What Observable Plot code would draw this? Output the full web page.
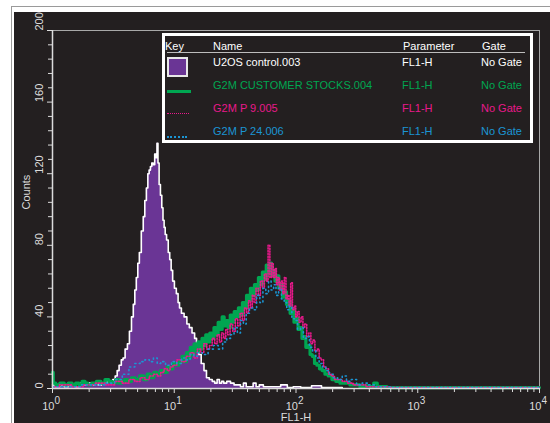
<!DOCTYPE html>
<html>
<head>
<meta charset="utf-8">
<script src="https://cdn.jsdelivr.net/npm/d3@7"></script>
<script src="https://cdn.jsdelivr.net/npm/@observablehq/plot@0.6"></script>
<style>
  html, body { margin: 0; padding: 0; background: #ffffff; }
  #wrap { position: relative; width: 550px; height: 423px; overflow: hidden; background: #fff; font-family: "Liberation Sans", Arial, sans-serif; }
  #border { position: absolute; left: 11px; top: 6px; width: 545px; height: 420px; border-left: 1px solid #9a9a9a; border-top: 1px solid #9a9a9a; }
  #panel { position: absolute; left: 14px; top: 12px; width: 536px; height: 411px; background: #231f20; }
  #chart { position: absolute; left: 0; top: 0; }
  #legend { position: absolute; left: 162px; top: 33px; width: 371px; height: 110px; box-sizing: border-box; border: 3px solid #ffffff; background: #231f20; }
  .lt { position: absolute; font-size: 11px; line-height: 11px; white-space: nowrap; }
</style>
</head>
<body>
<div id="wrap">
  <div id="border"></div>
  <div id="panel"></div>
  <div id="chart"></div>
  <div id="legend"></div>
</div>
<script>
// ---- data: [FL1-H value, counts] ----
const controlData = [
  [1.0,2],[1.1,1],[1.2,2],[1.3,1],[1.4,2],[1.5,2],[1.6,1],[1.7,3],[1.8,2],[1.9,2],[2.0,3],[2.15,2],[2.3,3],[2.45,2],[2.6,3],[2.75,3],[2.9,4],
  [3.05,4],[3.2,5],[3.35,7],[3.45,10],[3.6,13],[3.75,16],[3.85,17],[4.05,22],[4.2,25],[4.37,32],[4.54,40],[4.68,47],[4.81,55],[4.95,62],
  [5.09,70],[5.25,76],[5.48,88],[5.65,96],[5.81,105],[6.0,112],[6.14,120],[6.3,122],[6.45,124],[6.63,126],[6.8,125],[7.02,131],[7.15,129],[7.28,137],
  [7.42,126],[7.6,114],[7.8,108],[8.0,101],[8.16,94],[8.35,90],[8.5,86],[8.8,83],[9.05,76],[9.31,72],[9.55,66],[9.86,60],[10.2,56],[10.6,53],
  [10.9,48],[11.2,45],[11.7,42],[12.4,40],[13.0,36],[13.6,34],[14.4,31],[15.0,28],[15.5,21],[16.2,19],[17.1,14],[18.0,10],[18.8,6],[20.0,5],
  [21.0,4],[22.0,3],[23.0,5],[24.0,3],[25.0,4],[26.0,3],[28.0,4],[30.0,3],[32.0,2],[34.0,2],[36.0,1],[38.0,3],[40.0,1],[43.0,1],[46.0,3],
  [48.0,1],[52.0,2],[56.0,1],[62.0,1],[70.0,1],[80.0,2],[90.0,0.5],[100,1],[120,0.5],[150,1.5],[175,0.5],[240,0.5]
];
const stocksData = [
  [1.0,9],[1.03,3],[1.1,2],[1.2,3],[1.3,2],[1.4,3],[1.5,2],[1.6,3],[1.7,2],[1.8,4],[1.9,3],[2.0,2],[2.2,3],[2.4,4],[2.6,3],[2.8,5],[3.0,4],
  [3.2,3],[3.4,5],[3.6,3],[3.8,4],[4.0,5],[4.3,4],[4.6,6],[5.0,5],[5.4,7],[5.8,5],[6.2,8],[6.6,6],[7.0,9],[7.4,8],[8.0,10],[8.5,9],[9.0,12],
  [9.5,11],[10,14],[10.6,13],[11.2,15],[12,18],[12.4,15],[12.8,20],[13.3,17],[13.8,23],[14.3,19],[14.8,25],[15.4,21],[16,26],[16.6,22],
  [17.2,28],[17.8,24],[18.5,30],[19.2,26],[20,31],[20.8,28],[21.6,34],[22.5,30],[23.4,37],[24.3,33],[25.2,40],[26.2,35],[27.2,38],[28.3,34],
  [29.4,41],[30.5,37],[31.7,43],[33,40],[34.3,45],[35.6,41],[37,48],[38.5,45],[40,52],[41.5,49],[43,56],[44.7,52],[46.5,58],[48.3,55],
  [50,62],[52,58],[54,65],[56,61],[58,69],[60,64],[62,70],[64,63],[66,66],[68.5,60],[71,63],[73.5,56],[76,58],[79,51],[82,54],[85,47],
  [88,49],[91,42],[94.5,44],[98,37],[102,39],[106,33],[110,34],[114,28],[118,29],[123,23],[128,24],[133,19],[139,18],[145,14],[152,13],
  [160,11],[168,10],[178,8],[190,7],[205,5],[220,4],[240,3],[265,3],[290,2],[320,2],[350,1],[390,1.5],[420,1],[450,3],[480,1],[520,1],
  [600,0.5],[800,0.5],[1000,0.5],[2000,0.5],[5000,0.5],[10000,0.5]
];
const p9Data = [
  [1.0,1],[1.3,2],[1.6,1],[2.0,2],[2.5,3],[3.0,2],[3.5,4],[4.0,3],[4.5,5],[5.0,4],[5.5,6],[6.0,5],[6.5,7],[7,8],[7.5,7],[8,9],[8.5,11],[9,10],
  [9.5,12],[10,13],[11,16],[12,15],[13,18],[14,20],[15,17],[16,22],[17,20],[18,25],[19,22],[20,24],[21,28],[22,25],[23,30],[24,26],[25,31],
  [26,28],[27,33],[28,30],[29.5,36],[31,32],[32.5,39],[34,35],[35.5,42],[37,38],[38.5,45],[40,42],[41.5,49],[43,45],[44.5,52],[46,48],
  [48,56],[50,52],[52,60],[54,56],[56,64],[58,60],[60,80],[62,62],[64,70],[66,62],[68,67],[70,58],[72,62],[74,55],[76.5,60],[79,53],
  [81.5,62],[84,50],[86.5,52],[89,46],[92,59],[95,44],[98,46],[101,40],[104,43],[108,37],[112,40],[116,34],[120,36],[125,29],[130,31],
  [135,25],[140,27],[146,21],[152,22],[158,17],[165,16],[172,12],[180,11],[190,8],[200,7],[215,5],[230,5],[250,4],[280,3],[310,2],[350,2],
  [400,1],[500,1],[700,0.5],[10000,0.5]
];
const p24Data = [
  [1.0,1],[1.5,1],[2,2],[2.5,2],[3,3],[3.5,5],[4,8],[4.5,12],[5,14],[5.5,15],[6,16],[6.5,15],[7,17],[7.5,14],[8,15],[9,13],[10,15],[11,14],
  [12,17],[13,16],[14,19],[15,18],[16,20],[18,19],[20,22],[22,24],[24,22],[26,26],[28,28],[30,30],[32,34],[34,31],[36,38],[38,36],[40,42],
  [43,45],[46,44],[49,52],[52,48],[55,56],[58,53],[61,60],[64,55],[67,58],[70,52],[74,56],[78,50],[82,48],[86,44],[90,46],[95,39],[100,38],
  [106,33],[112,34],[118,28],[125,29],[133,23],[141,21],[150,17],[160,14],[170,12],[182,10],[195,8],[210,6],[230,5],[250,7],[270,4],[300,5],
  [330,2],[370,3],[420,2],[480,1],[550,1],[700,0.5],[10000,0.5]
];

// ---- ticks and labels ----
const xDecades = [1, 10, 100, 1000, 10000];
const xExponents = ["0", "1", "2", "3", "4"];
const xMinor = [2,3,4,5,6,7,8,9,20,30,40,50,60,70,80,90,200,300,400,500,600,700,800,900,2000,3000,4000,5000,6000,7000,8000,9000];
const yMajor = [0, 40, 80, 120, 160, 200];
const yMinor = [8,16,24,32,48,56,64,72,88,96,104,112,128,136,144,152,168,176,184,192];
const xLabel = "FL1-H";
const yLabel = "Counts";

// ---- legend ----
const legendHeader = ["Key", "Name", "Parameter", "Gate"];
const legendNames = ["U2OS control.003", "G2M CUSTOMER STOCKS.004", "G2M P 9.005", "G2M P 24.006"];
const legendParams = ["FL1-H", "FL1-H", "FL1-H", "FL1-H"];
const legendGates = ["No Gate", "No Gate", "No Gate", "No Gate"];
const seriesColors = ["#ffffff", "#00a651", "#e8198b", "#1b95d4"];
const purple = "#6a3595";

const axisColor = "#dcdcdc";

const chart = Plot.plot({
  width: 550,
  height: 423,
  marginLeft: 52,
  marginRight: 11,
  marginTop: 30,
  marginBottom: 35,
  x: {type: "log", domain: [1, 10000], axis: null},
  y: {domain: [0, 200], axis: null},
  style: {background: "transparent", color: axisColor, fontFamily: "Liberation Sans, Arial, sans-serif", fontSize: "11px"},
  marks: [
    Plot.frame({stroke: "#a8a8a8"}),
    Plot.areaY(controlData, {x: d => d[0], y: d => d[1], curve: "step", fill: purple}),
    Plot.lineY(controlData, {x: d => d[0], y: d => d[1], curve: "step", stroke: "#ffffff", strokeWidth: 1.6}),
    Plot.lineY(stocksData, {x: d => d[0], y: d => d[1], curve: "step", stroke: seriesColors[1], strokeWidth: 3.2}),
    Plot.lineY(p9Data, {x: d => d[0], y: d => d[1], curve: "step", stroke: seriesColors[2], strokeWidth: 1.6, strokeDasharray: "1.2,1.6"}),
    Plot.lineY(p24Data, {x: d => d[0], y: d => d[1], curve: "step", stroke: seriesColors[3], strokeWidth: 1.6, strokeDasharray: "1.2,3.2"}),
    Plot.ruleY([0], {stroke: axisColor, strokeWidth: 1.5}),
    Plot.ruleX([1], {stroke: axisColor, strokeWidth: 1.5}),
    Plot.axisX({ticks: xMinor, tickSize: 4, tickFormat: () => "", stroke: axisColor, anchor: "bottom"}),
    Plot.axisX({ticks: xDecades, tickSize: 5, tickFormat: () => "", stroke: axisColor, anchor: "bottom"}),
    Plot.axisY({ticks: yMinor, tickSize: 4, tickFormat: () => "", stroke: axisColor, anchor: "left"}),
    Plot.axisY({ticks: yMajor, tickSize: 5, tickFormat: () => "", stroke: axisColor, anchor: "left"}),
    Plot.text(yMajor, {y: d => d, text: d => String(d), frameAnchor: "left", dx: -13, rotate: -90, fill: axisColor, fontSize: 11}),
    Plot.text([yLabel], {frameAnchor: "left", dx: -26, dy: 0, rotate: -90, fill: axisColor, fontSize: 11}),
    Plot.text(xDecades, {x: d => d, text: () => "10", frameAnchor: "bottom", textAnchor: "end", lineAnchor: "bottom", dx: 2, dy: 21, fill: axisColor, fontSize: 11}),
    Plot.text(xDecades, {x: d => d, text: (d, i) => xExponents[i], frameAnchor: "bottom", textAnchor: "start", lineAnchor: "bottom", dx: 2, dy: 15, fill: axisColor, fontSize: 10}),
    Plot.text([xLabel], {frameAnchor: "bottom", lineAnchor: "bottom", dy: 32, fill: axisColor, fontSize: 11})
  ]
});
document.getElementById("chart").appendChild(chart);

// ---- legend box (HTML overlay, coordinates relative to legend box) ----
const lg = document.getElementById("legend");
const ox = 165, oy = 36; // inner origin of legend on page
function addText(txt, px, py, color) {
  const el = document.createElement("div");
  el.className = "lt";
  el.textContent = txt;
  el.style.left = (px - ox) + "px";
  el.style.top = (py - oy) + "px";
  el.style.color = color;
  lg.appendChild(el);
}
const colX = [165, 213, 403, 482];
legendHeader.forEach((h, i) => addText(h, colX[i], 41, "#ffffff"));
const rule = document.createElement("div");
Object.assign(rule.style, {position: "absolute", left: (167 - ox) + "px", top: (52 - oy) + "px", width: "358px", height: "1px", background: "#bdbdbd"});
lg.appendChild(rule);
const rowY = [57, 80, 103, 126];
legendNames.forEach((n, i) => {
  addText(n, colX[1], rowY[i], seriesColors[i]);
  addText(legendParams[i], 402, rowY[i], seriesColors[i]);
  addText(legendGates[i], 481, rowY[i], seriesColors[i]);
});
// key swatches
const sw = document.createElement("div");
Object.assign(sw.style, {position: "absolute", left: (167 - ox) + "px", top: (57 - oy) + "px", width: "21px", height: "20px", boxSizing: "border-box", border: "2px solid #e8e8e8", background: purple});
lg.appendChild(sw);
const keyLines = [
  {y: 90, style: "solid", w: 3, len: 24, c: seriesColors[1]},
  {y: 113, style: "dotted", w: 1, len: 22, c: seriesColors[2]},
  {y: 136, style: "dotted", w: 2, len: 20, c: seriesColors[3]}
];
keyLines.forEach(k => {
  const d = document.createElement("div");
  Object.assign(d.style, {position: "absolute", left: (167 - ox) + "px", top: (k.y - oy) + "px", width: k.len + "px", height: "0px", borderTop: k.w + "px " + k.style + " " + k.c});
  lg.appendChild(d);
});
</script>
</body>
</html>
